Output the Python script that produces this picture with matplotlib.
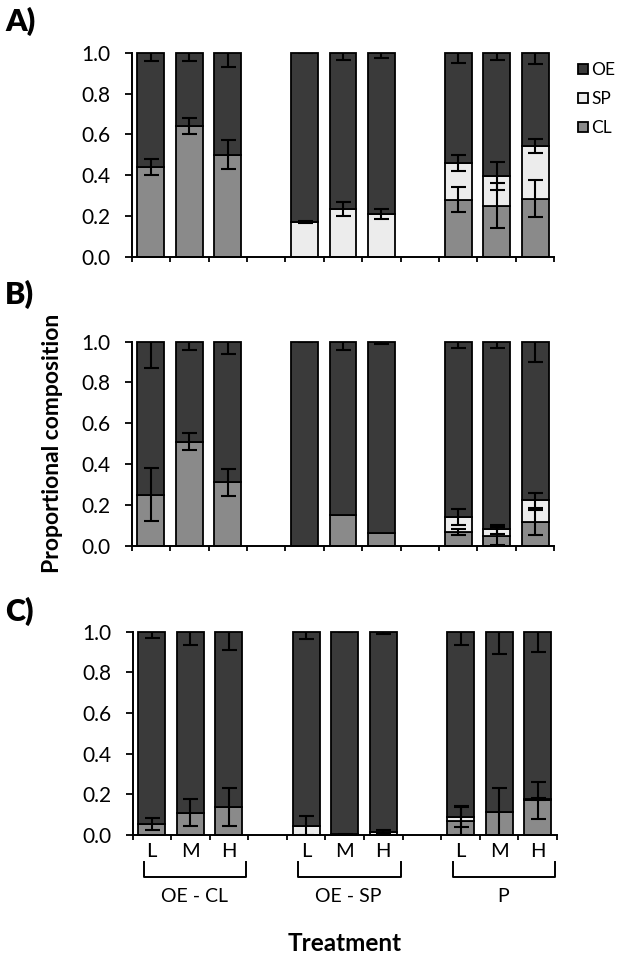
import numpy as np
import matplotlib
matplotlib.use("Agg")
import matplotlib.pyplot as plt
from matplotlib.ticker import FormatStrFormatter, FixedLocator
import matplotlib.transforms as mtransforms

plt.rcParams['font.family'] = ['Lato', 'DejaVu Sans']

# ---------------- data ----------------
levels = ["L", "M", "H"]
groups = ["OE - CL", "OE - SP", "P"]
series = ["OE", "SP", "CL"]
nan = np.nan

# Panel A
A_CL = [0.44, 0.64, 0.50, 0.0, 0.0, 0.0, 0.28, 0.25, 0.285]
A_SP = [0.0, 0.0, 0.0, 0.17, 0.235, 0.21, 0.18, 0.145, 0.257]
A_OE = [0.56, 0.36, 0.50, 0.83, 0.765, 0.79, 0.54, 0.605, 0.458]
A_CL_err = [0.04, 0.04, 0.07, nan, nan, nan, 0.06, 0.11, 0.09]
A_SP_err = [nan, nan, nan, 0.005, 0.035, 0.025, 0.04, 0.07, 0.035]
A_OE_err = [0.04, 0.04, 0.07, 0.003, 0.035, 0.025, 0.05, 0.035, 0.057]

# Panel B
B_CL = [0.25, 0.51, 0.31, 0.0, 0.15, 0.06, 0.065, 0.048, 0.113]
B_SP = [0.0, 0.0, 0.0, 0.0, 0.0, 0.0, 0.075, 0.032, 0.108]
B_OE = [0.75, 0.49, 0.69, 1.0, 0.85, 0.94, 0.86, 0.92, 0.779]
B_CL_err = [0.13, 0.04, 0.065, nan, nan, nan, 0.015, 0.045, 0.063]
B_SP_err = [nan, nan, nan, nan, nan, nan, 0.037, 0.023, 0.037]
B_OE_err = [0.13, 0.04, 0.06, 0.002, 0.04, 0.013, 0.03, 0.03, 0.10]

# Panel C
C_CL = [0.053, 0.11, 0.137, 0.0, 0.0, 0.0, 0.071, 0.112, 0.17]
C_SP = [0.0, 0.0, 0.0, 0.046, 0.003, 0.015, 0.016, 0.0, 0.006]
C_OE = [0.947, 0.89, 0.863, 0.954, 0.997, 0.985, 0.913, 0.888, 0.824]
C_CL_err = [0.03, 0.065, 0.092, nan, nan, nan, 0.07, 0.118, 0.09]
C_SP_err = [nan, nan, nan, 0.045, 0.002, 0.012, 0.05, nan, 0.005]
C_OE_err = [0.033, 0.066, 0.091, 0.036, 0.003, 0.01, 0.066, 0.11, 0.10]

panels = [
    ("A)", A_CL, A_SP, A_OE, A_CL_err, A_SP_err, A_OE_err),
    ("B)", B_CL, B_SP, B_OE, B_CL_err, B_SP_err, B_OE_err),
    ("C)", C_CL, C_SP, C_OE, C_CL_err, C_SP_err, C_OE_err),
]

# ---------------- style ----------------
col_OE = "#3a3a3a"
col_SP = "#ececec"
col_CL = "#8a8a8a"
W, H = 620, 959
fig = plt.figure(figsize=(W / 100, H / 100), dpi=100)

# axes rectangles in pixel coords (left, top, right, bottom)
rects = [(131.7, 52.7, 554.3, 256.7),
         (131.7, 341.7, 554.3, 545.5),
         (132.5, 631.5, 557.0, 835.0)]
letter_y = [21, 294, 611]

# slot positions: 3 groups of 3 bars with an empty slot between groups
xpos = np.array([0, 1, 2, 4, 5, 6, 8, 9, 10], dtype=float)
bw = 0.70

axes = []
for i, (lab, CL, SP, OE, CLe, SPe, OEe) in enumerate(panels):
    l, t, r, b = rects[i]
    ax = fig.add_axes([l / W, 1 - b / H, (r - l) / W, (b - t) / H])
    axes.append(ax)
    CL = np.array(CL); SP = np.array(SP); OE = np.array(OE)
    kw = dict(width=bw, edgecolor="black", linewidth=1.3, clip_on=False, zorder=2)
    bCL = ax.bar(xpos, CL, color=col_CL, **kw)
    bSP = ax.bar(xpos, SP, bottom=CL, color=col_SP, **kw)
    bOE = ax.bar(xpos, OE, bottom=CL + SP, color=col_OE, **kw)
    ekw = dict(fmt="none", ecolor="black", elinewidth=1.5, capsize=5.4,
               capthick=1.5, zorder=3)
    ax.errorbar(xpos, CL, yerr=np.array(CLe), **ekw)
    ax.errorbar(xpos, CL + SP, yerr=np.array(SPe), **ekw)
    ax.errorbar(xpos, CL + SP + OE, yerr=np.array(OEe), **ekw)

    ax.set_xlim(-0.5, 10.5)
    ax.set_ylim(0, 1.0)
    ax.set_yticks(np.arange(0, 1.01, 0.2))
    ax.yaxis.set_major_formatter(FormatStrFormatter("%.1f"))
    ax.xaxis.set_major_locator(FixedLocator(np.arange(-0.5, 10.6, 1.0)))
    ax.xaxis.set_major_formatter(plt.NullFormatter())
    for s in ["top", "right"]:
        ax.spines[s].set_visible(False)
    for s in ["left", "bottom"]:
        ax.spines[s].set_linewidth(1.4)
    ax.tick_params(axis="y", direction="out", length=5, width=1.3,
                   labelsize=15, pad=10)
    ax.tick_params(axis="x", which="major", direction="out", length=3.5, width=1.3)
    fig.text(5 / W, 1 - letter_y[i] / H, lab, fontsize=22, fontweight="heavy",
             ha="left", va="center")

    if i == 0:
        fig.legend([bOE, bSP, bCL], series, loc="upper left",
                   bbox_to_anchor=(578 / W, 1 - 62 / H), frameon=False,
                   fontsize=12.5, handlelength=0.55, handleheight=0.55,
                   handletextpad=0.2, labelspacing=0.75, borderpad=0,
                   borderaxespad=0)

# bottom panel: level labels, group brackets, group names, axis title
axC = axes[2]
axC.set_xticks(xpos, minor=True)
axC.set_xticklabels(levels * 3, minor=True)
axC.tick_params(axis="x", which="minor", length=0, labelsize=14.5, pad=6)
trans = mtransforms.blended_transform_factory(axC.transData, axC.transAxes)
y_top, y_bot = -0.135, -0.205
for gi, g in enumerate(groups):
    x0 = xpos[gi * 3]
    xl, xr = x0 - 0.2, x0 + 2 + 0.45
    axC.plot([xl, xl, xr, xr], [y_top, y_bot, y_bot, y_top], color="black",
             lw=1.4, transform=trans, clip_on=False)
    axC.text(x0 + 1.1, -0.30, g, transform=trans, ha="center", va="center",
             fontsize=14)
axC.text(5.0, -0.535, "Treatment", transform=trans, ha="center", va="center",
         fontsize=17.5, fontweight="bold")

fig.text(53 / W, 1 - 443 / H, "Proportional composition", rotation=90,
         ha="center", va="center", fontsize=16.5, fontweight="bold")

fig.savefig("out.png", dpi=100)
